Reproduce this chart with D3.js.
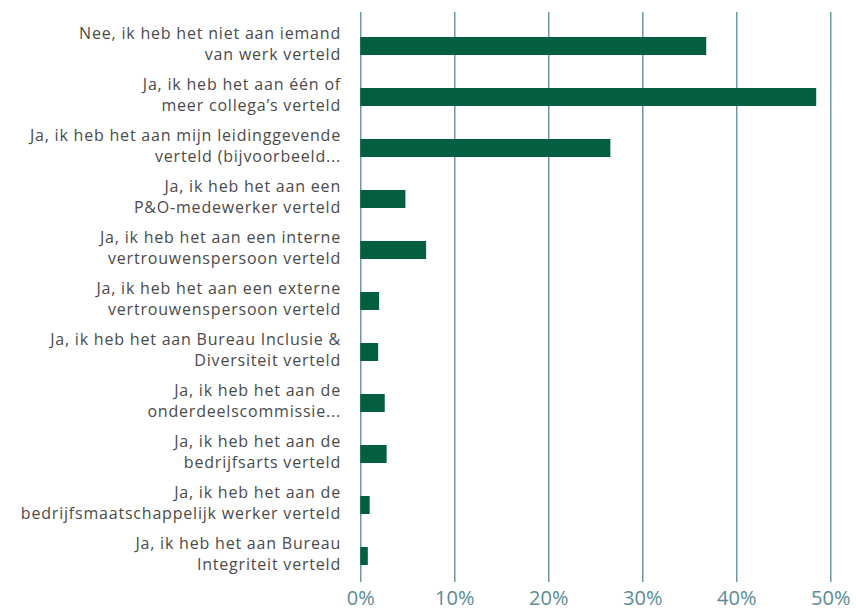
<!DOCTYPE html>
<html>
<head>
<meta charset="utf-8">
<script src="https://cdn.jsdelivr.net/npm/d3@7"></script>
<style>
  html, body { margin: 0; padding: 0; background: #fff; }
  svg { display: block; }
</style>
</head>
<body>
<svg id="chart" width="856" height="608"></svg>
<script>
// labels are split over two lines, as in the original
const labels = [
  ['Nee, ik heb het niet aan iemand', 'van werk verteld'],
  ['Ja, ik heb het aan één of', 'meer collega’s verteld'],
  ['Ja, ik heb het aan mijn leidinggevende', 'verteld (bijvoorbeeld...'],
  ['Ja, ik heb het aan een', 'P&O-medewerker verteld'],
  ['Ja, ik heb het aan een interne', 'vertrouwenspersoon verteld'],
  ['Ja, ik heb het aan een externe', 'vertrouwenspersoon verteld'],
  ['Ja, ik heb het aan Bureau Inclusie &', 'Diversiteit verteld'],
  ['Ja, ik heb het aan de', 'onderdeelscommissie...'],
  ['Ja, ik heb het aan de', 'bedrijfsarts verteld'],
  ['Ja, ik heb het aan de', 'bedrijfsmaatschappelijk werker verteld'],
  ['Ja, ik heb het aan Bureau', 'Integriteit verteld'],
];
const values = [0.368, 0.485, 0.266, 0.048, 0.070, 0.020, 0.019, 0.026, 0.028, 0.010, 0.008];
const ticks = [0, 0.1, 0.2, 0.3, 0.4, 0.5];

const svg = d3.select('#chart');
const barColor = '#035e42';
const gridColor = '#4c7f89';
const font = '"Open Sans", sans-serif';

const x = d3.scaleLinear()
  .domain([0, 0.5])
  .range([360.3, 830.3]);

const y = d3.scaleBand()
  .domain(d3.range(labels.length))
  .range([20.5, 581.5])
  .paddingInner(0.647)
  .paddingOuter(0.3235);

const axisY = 582;

svg.append('g')
  .attr('transform', `translate(0,${axisY})`)
  .call(d3.axisBottom(x)
    .tickValues(ticks)
    .tickSize(-(axisY - 12))
    .tickPadding(9)
    .tickFormat(d3.format('.0%')))
  .call((g) => g.select('.domain').remove())
  .call((g) => g.selectAll('.tick line').attr('stroke', gridColor).attr('stroke-width', 1.2))
  .call((g) => g.selectAll('.tick text')
    .attr('fill', '#5b8b95')
    .style('font', `20px ${font}`));

svg.append('g')
  .selectAll('rect')
  .data(values)
  .join('rect')
  .attr('x', x(0))
  .attr('y', (d, i) => y(i))
  .attr('width', (d) => x(d) - x(0))
  .attr('height', y.bandwidth())
  .attr('fill', barColor);

const label = svg.append('g')
  .style('font', `16px ${font}`)
  .style('letter-spacing', '0.8px')
  .attr('fill', '#4a4a4a')
  .attr('text-anchor', 'end')
  .selectAll('text')
  .data(labels)
  .join('text')
  .attr('x', 341)
  .attr('y', (d, i) => y(i) + y.bandwidth() / 2);

label.append('tspan')
  .attr('x', 341)
  .attr('dy', -7)
  .text((d) => d[0]);

label.append('tspan')
  .attr('x', 341)
  .attr('dy', 20.5)
  .text((d) => d[1]);
</script>
</body>
</html>
